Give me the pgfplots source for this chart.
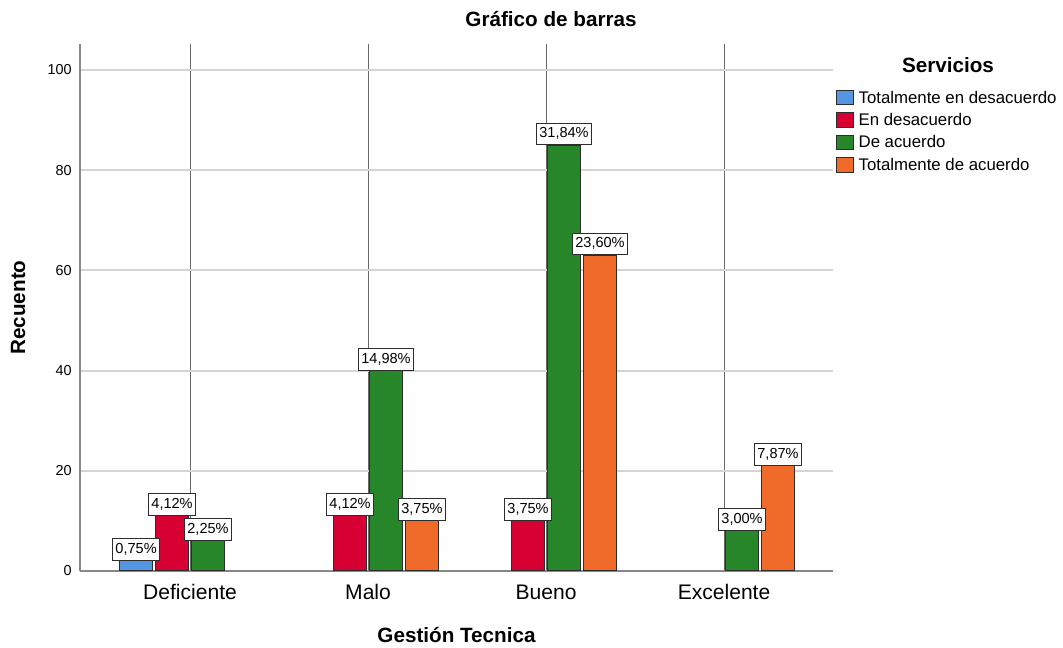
\documentclass[border=0pt]{standalone}
\usepackage{fontspec}
\setmainfont{Liberation Sans}
\usepackage{pgfplots}
\usepackage{pgfplotstable}
\pgfplotsset{compat=1.18}

\definecolor{cBlue}{RGB}{85,150,228}
\definecolor{cRed}{RGB}{214,0,50}
\definecolor{cGreen}{RGB}{40,134,42}
\definecolor{cOrange}{RGB}{240,106,42}
\definecolor{gridH}{RGB}{212,212,212}
\definecolor{gridV}{RGB}{105,105,105}
\definecolor{axisC}{RGB}{136,136,136}
\definecolor{edgeC}{RGB}{45,45,45}

% counts per category (0 Deficiente, 1 Malo, 2 Bueno, 3 Excelente) and percent of total
\pgfplotstableread{
x y l
0 2 0,75
}\tdesac
\pgfplotstableread{
x y l
0 11 4,12
1 11 4,12
2 10 3,75
}\desac
\pgfplotstableread{
x y l
0 6 2,25
1 40 14,98
2 85 31,84
3 8 3,00
}\acuerdo
\pgfplotstableread{
x y l
1 10 3,75
2 63 23,60
3 21 7,87
}\tacuerdo

\begin{document}
\begin{tikzpicture}
% page frame: 797.25pt x 482.25pt
\path (0pt,0pt) rectangle (797.25pt,482.25pt);
\begin{axis}[
  at={(60pt,54pt)}, anchor=south west,
  scale only axis, width=564.75pt, height=395.25pt,
  xmin=-0.618, xmax=3.612, ymin=0, ymax=105.2,
  clip mode=individual,
  ybar, bar width=0.186,
  axis x line*=bottom, axis y line*=left,
  axis line style={axisC, line width=1.5pt, -},
  xtick={0,1,2,3},
  xticklabels={Deficiente,Malo,Bueno,Excelente},
  ytick={0,20,...,100},
  major tick length=0pt,
  xmajorgrids, ymajorgrids,
  x grid style={gridV, line width=0.7pt},
  y grid style={gridH, line width=1.5pt},
  /pgf/number format/assume math mode=true,
  yticklabel style={font=\fontsize{10.8pt}{13pt}\selectfont, inner sep=0pt, xshift=-6pt},
  xticklabel style={font=\fontsize{15.8pt}{19pt}\selectfont, inner sep=0pt,
    text height=11.5pt, text depth=0pt, anchor=north, yshift=-9.5pt},
  title={Gráfico de barras},
  title style={font=\bfseries\fontsize{15.5pt}{18pt}\selectfont, at={(axis description cs:0.6255,1.0323)}, anchor=center},
  xlabel={Gestión Tecnica},
  xlabel style={font=\bfseries\fontsize{15.5pt}{18pt}\selectfont, at={(axis description cs:0.5,-0.1214)}, anchor=center},
  ylabel={Recuento},
  ylabel style={font=\bfseries\fontsize{15.5pt}{18pt}\selectfont, at={(axis description cs:-0.0823,0.5)}, anchor=center},
  every axis plot/.append style={draw=edgeC, line width=0.75pt},
  every node near coord/.append style={
    font=\fontsize{10.9pt}{13pt}\selectfont, fill=white, draw=edgeC, line width=0.75pt,
    inner xsep=2.25pt, inner ysep=2.8pt, text height=8.2pt, text depth=2.4pt,
    anchor=south, yshift=0pt, text=black},
  legend cell align=left,
  legend style={at={(axis description cs:1.004,0.9165)}, anchor=north west,
    draw=none, fill=none, inner sep=0pt, row sep=2.2pt,
    font=\fontsize{12.6pt}{15pt}\selectfont,
    /tikz/every odd column/.append style={column sep=1.8pt}},
  legend image code/.code={\draw[#1, draw=edgeC, line width=0.75pt] (0pt,-5.2pt) rectangle (12.2pt,5.6pt);},
  labels/.style={draw=none, fill=none, forget plot,
    nodes near coords={\pgfplotspointmeta\%}, point meta=explicit symbolic},
]
% bars
\addplot[fill=cBlue,   bar shift=-0.303] table {\tdesac};
\addplot[fill=cRed,    bar shift=-0.101] table {\desac};
\addplot[fill=cGreen,  bar shift=0.101]  table {\acuerdo};
\addplot[fill=cOrange, bar shift=0.303]  table {\tacuerdo};
\legend{Totalmente en desacuerdo,En desacuerdo,De acuerdo,Totalmente de acuerdo}
% percentage boxes, drawn over all bars
\addplot[labels, bar shift=-0.303] table[meta=l] {\tdesac};
\addplot[labels, bar shift=-0.101] table[meta=l] {\desac};
\addplot[labels, bar shift=0.101]  table[meta=l] {\acuerdo};
\addplot[labels, bar shift=0.303]  table[meta=l] {\tacuerdo};
\node[font=\bfseries\fontsize{15.5pt}{18pt}\selectfont, anchor=center]
  at (axis description cs:1.1527,0.9602) {Servicios};
\end{axis}
\end{tikzpicture}
\end{document}
